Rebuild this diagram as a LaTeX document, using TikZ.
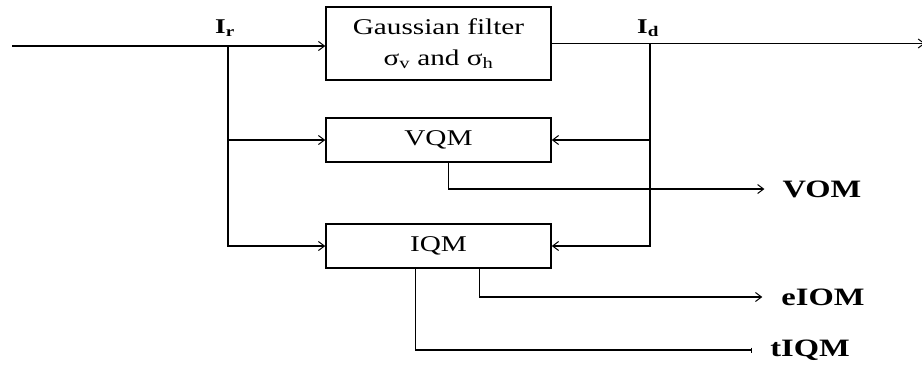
\documentclass[tikz,border=0pt]{standalone}
\usepackage{fontspec}
\setmainfont{Liberation Serif}
\newfontfamily\widefont[FakeStretch=1.3]{Liberation Serif}
\usetikzlibrary{arrows.meta}
\begin{document}
\begin{tikzpicture}[x=1pt,y=-1pt,
  blk/.style={draw, line width=1.5pt, minimum width=225pt, inner sep=0pt,
    font=\widefont\fontsize{22.5}{31}\selectfont, align=center},
  conn/.style={line width=1.5pt},
  arr/.style={conn, -{Straight Barb[length=6pt,width=9pt,line width=1pt]}},
  lbl/.style={font=\widefont\bfseries\fontsize{25}{30}\selectfont, inner sep=0pt},
  sig/.style={font=\widefont\bfseries\fontsize{21}{24}\selectfont, inner sep=0pt}
]
\useasboundingbox (0,0) rectangle (922,367);
% blocks
\node[blk, minimum height=73pt] (gauss) at (438.5,43.5)
  {Gaussian filter\\σ\textsubscript{v} and σ\textsubscript{h}};
\node[blk, minimum height=44pt] (vqm) at (438.5,140) {VQM};
\node[blk, minimum height=44pt] (iqm) at (438.5,246) {IQM};
% signal labels
\node[sig] (ir) at (225,28) {I\textsubscript{r}};
\node[sig] (id) at (648,28) {I\textsubscript{d}};
\node[lbl] (vom) at (822,189) {VOM};
\node[lbl] (eiom) at (823,297) {eIOM};
\node[lbl] (tiqm) at (810,350) {tIQM};
% junctions and free ends
\coordinate (in) at (12,46);
\coordinate (jr) at (228,46);
\coordinate (jd) at (650,43.5);
\coordinate (out) at (925,43.5);
% connectors
\draw[arr] (in) -- (in -| gauss.west);
\draw[arr] (gauss.east) -- (out);
\draw[arr] (jr) |- (vqm.west);
\draw[arr] (jr) |- (iqm.west);
\draw[arr] (jd) |- (vqm.east);
\draw[arr] (jd) |- (iqm.east);
\draw[arr] ([xshift=10pt]vqm.south) |- ([xshift=-18pt]vom.west);
\draw[arr] ([xshift=41pt]iqm.south) |- ([xshift=-19pt]eiom.west);
\draw[conn, -{Bar[width=5pt,line width=0.6pt]}] ([xshift=-23pt]iqm.south) |- ([xshift=-18pt]tiqm.west);
\end{tikzpicture}
\end{document}
